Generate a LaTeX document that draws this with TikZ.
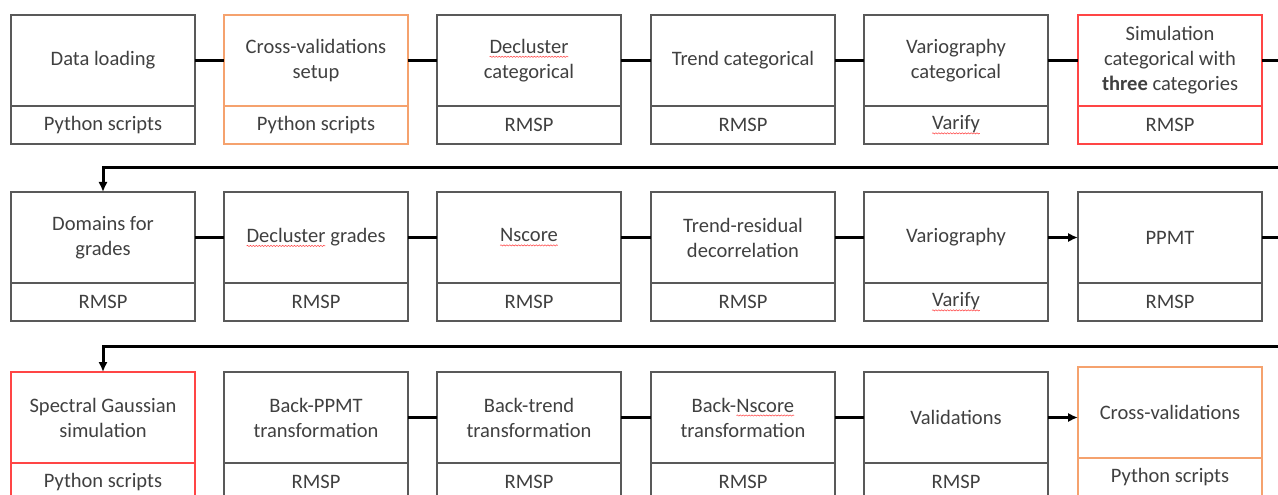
\documentclass[tikz,border=0pt]{standalone}
\usepackage{fontspec}
\setmainfont{Carlito}
\usetikzlibrary{arrows.meta,positioning,decorations.pathmorphing}

\definecolor{boxline}{HTML}{595959}
\definecolor{boxtext}{HTML}{404040}
\definecolor{cvorange}{HTML}{F5A26E}
\definecolor{simred}{HTML}{FF4545}

% wavy red underline (spell checker marks)
\newcommand\typo[1]{\tikz[baseline=(w.base)]{%
    \node[rectangle,draw=none,inner sep=0pt,outer sep=0pt,minimum width=0pt,minimum height=0pt,anchor=base] (w) {#1};
    \draw[simred,line width=0.4pt,decorate,decoration={snake,amplitude=0.45pt,segment length=2.2pt}]
        ([yshift=-2.6pt]w.base west) -- ([yshift=-2.6pt]w.base east);}}

\begin{document}
\begin{tikzpicture}[x=0.75pt,y=-0.75pt,
        font=\fontsize{15.4}{18.8}\selectfont,
        stage/.style={draw=boxline,line width=0.9pt,text=boxtext,align=center,
            minimum width=138pt,minimum height=68.25pt,inner sep=2pt,outer sep=0pt,anchor=north west},
        tool/.style={draw=boxline,line width=0.9pt,text=boxtext,
            minimum width=138pt,minimum height=28.5pt,inner sep=0pt,outer sep=0pt,below=0pt of #1},
        cv/.style={draw=cvorange},
        sim/.style={draw=simred},
        link/.style={line width=2.25pt},
        flow/.style={link,-{Latex[length=7.5pt,width=7pt]}}]

    \useasboundingbox (0,0) rectangle (1278,495);

    % categorical part
    \node[stage] (load) at (11,15) {Data loading};
    \node[tool=load] (load-t) {Python scripts};
    \node[stage,cv] (cvset) at (224,15) {Cross-validations\\setup};
    \node[tool=cvset,cv] (cvset-t) {Python scripts};
    \node[stage] (dclcat) at (437,15) {\typo{Decluster}\\categorical};
    \node[tool=dclcat] (dclcat-t) {RMSP};
    \node[stage] (trendcat) at (651,15) {Trend categorical};
    \node[tool=trendcat] (trendcat-t) {RMSP};
    \node[stage] (variocat) at (864,15) {Variography\\categorical};
    \node[tool=variocat] (variocat-t) {\typo{Varify}};
    \node[stage,sim] (simcat) at (1078,15) {Simulation\\categorical with\\\textbf{three} categories};
    \node[tool=simcat,sim] (simcat-t) {RMSP};

    % grades
    \node[stage] (domains) at (11,192) {Domains for\\grades};
    \node[tool=domains] (domains-t) {RMSP};
    \node[stage] (dclgr) at (224,192) {\typo{Decluster} grades};
    \node[tool=dclgr] (dclgr-t) {RMSP};
    \node[stage] (nscore) at (437,192) {\typo{Nscore}};
    \node[tool=nscore] (nscore-t) {RMSP};
    \node[stage] (trres) at (651,192) {Trend-residual\\decorrelation};
    \node[tool=trres] (trres-t) {RMSP};
    \node[stage] (vario) at (864,192) {Variography};
    \node[tool=vario] (vario-t) {\typo{Varify}};
    \node[stage] (ppmt) at (1078,192) {PPMT};
    \node[tool=ppmt] (ppmt-t) {RMSP};

    % simulation and back transforms
    \node[stage,sim] (sgs) at (11,372) {Spectral Gaussian\\simulation};
    \node[tool=sgs,sim] (sgs-t) {Python scripts};
    \node[stage] (bppmt) at (224,372) {Back-PPMT\\transformation};
    \node[tool=bppmt] (bppmt-t) {RMSP};
    \node[stage] (btrend) at (437,372) {Back-trend\\transformation};
    \node[tool=btrend] (btrend-t) {RMSP};
    \node[stage] (bnscore) at (651,372) {Back-\typo{Nscore}\\transformation};
    \node[tool=bnscore] (bnscore-t) {RMSP};
    \node[stage] (valid) at (864,372) {Validations};
    \node[tool=valid] (valid-t) {RMSP};
    \node[stage,cv] (xval) at (1078,367) {Cross-validations};
    \node[tool=xval,cv] (xval-t) {Python scripts};

    % connectors
    \draw[link] (load) -- (cvset);
    \draw[link] (cvset) -- (dclcat);
    \draw[link] (dclcat) -- (trendcat);
    \draw[link] (trendcat) -- (variocat);
    \draw[link] (variocat) -- (simcat);

    \coordinate (turn1) at (1284,168);
    \draw[flow] (simcat.east) -| (turn1) -| (domains.north);

    \draw[link] (domains) -- (dclgr);
    \draw[link] (dclgr) -- (nscore);
    \draw[link] (nscore) -- (trres);
    \draw[link] (trres) -- (vario);
    \draw[flow] (vario) -- (ppmt);

    \coordinate (turn2) at (1284,346);
    \draw[flow] (ppmt.east) -| (turn2) -| (sgs.north);

    \draw[link] (bppmt) -- (btrend);
    \draw[link] (btrend) -- (bnscore);
    \draw[link] (bnscore) -- (valid);
    \draw[flow] (valid.east) -- (valid.east -| xval.west);
\end{tikzpicture}
\end{document}
